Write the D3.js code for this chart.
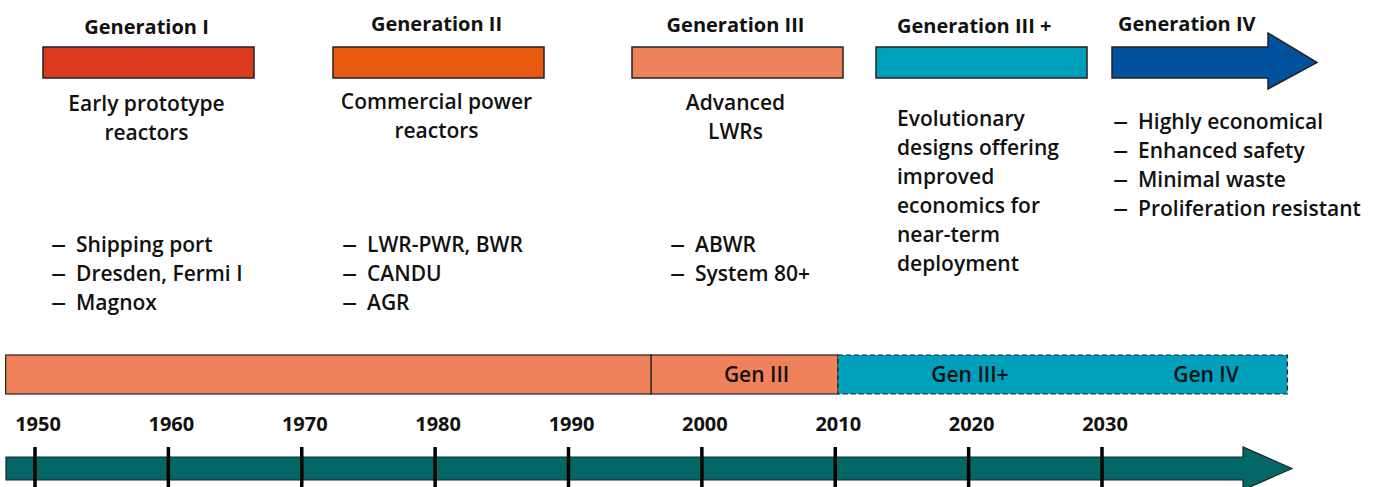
<!DOCTYPE html>
<html lang="en">
<head>
    <meta charset="utf-8">
    <title>Reactor generations timeline</title>
    <script src="https://d3js.org/d3.v7.min.js"></script>
    <style>
        body { margin: 0; background: #fff; }
        text { font-family: "Open Sans", "Noto Sans", sans-serif; fill: #111; }
    </style>
</head>
<body>
<script>
    // Chart data
    var genNames = ["Generation I", "Generation II", "Generation III", "Generation III +", "Generation IV"];
    var genColors = ["#dc391e", "#e9590f", "#f0825b", "#009fbb", "#00529f"];
    var genDescriptions = [
        ["Early prototype", "reactors"],
        ["Commercial power", "reactors"],
        ["Advanced", "LWRs"],
        ["Evolutionary", "designs offering", "improved", "economics for", "near-term", "deployment"],
        []
    ];
    var genBullets = [
        ["Shipping port", "Dresden, Fermi I", "Magnox"],
        ["LWR-PWR, BWR", "CANDU", "AGR"],
        ["ABWR", "System 80+"],
        [],
        ["Highly economical", "Enhanced safety", "Minimal waste", "Proliferation resistant"]
    ];
    var yearTicks = [1950, 1960, 1970, 1980, 1990, 2000, 2010, 2020, 2030];
    var segStart = [1947.8, 1996.2, 2010.2];
    var segEnd = [1996.2, 2010.2, 2043.9];
    var segColors = ["#f0825b", "#f0825b", "#009fbb"];
    var segDashed = [false, false, true];
    var segLabels = ["Gen III", "Gen III+", "Gen IV"];
    var segLabelYears = [2004.1, 2020.1, 2037.8];

    var width = 1373, height = 487;

    var svg = d3.select("body").append("svg")
        .attr("width", width)
        .attr("height", height);

    // Year scale for the lower timeline
    var x = d3.scaleLinear().domain([1950, 2030]).range([35, 1102]);

    // Column layout for the generation blocks
    var colX = [43, 333, 632, 876, 1112];
    var barW = 211;
    var titleY = [34, 31, 32, 33, 31];
    var descY = [111, 109, 110, 126, 0];
    var bulletX = [8, 9, 38, 0, 1];
    var bulletY = [252, 252, 252, 0, 129];

    var cols = svg.selectAll("g.gen")
        .data(genNames)
        .enter().append("g")
        .attr("class", "gen")
        .attr("transform", function(d, i) { return "translate(" + colX[i] + ",0)"; });

    cols.append("text")
        .attr("x", function(d, i) { return i == 3 ? 21 : (i == 4 ? 6 : barW / 2 - 2); })
        .attr("y", function(d, i) { return titleY[i]; })
        .attr("text-anchor", function(d, i) { return i >= 3 ? "start" : "middle"; })
        .style("font-weight", "bold")
        .style("font-size", "20px")
        .text(function(d) { return d; });

    // Bars (last one is an arrow)
    cols.append("path")
        .attr("fill", function(d, i) { return genColors[i]; })
        .attr("stroke", "#222")
        .attr("stroke-width", 1.5)
        .attr("d", function(d, i) {
            if (i < 4) return "M0,47H" + barW + "V78H0Z";
            return "M0,47H156V33L205,62.5L156,89V78H0Z";
        });

    // Descriptions and bullet lists
    cols.each(function(d, i) {
        var g = d3.select(this);
        g.selectAll("text.desc")
            .data(genDescriptions[i])
            .enter().append("text")
            .attr("class", "desc")
            .attr("x", i == 3 ? 21 : barW / 2 - 2)
            .attr("y", function(l, j) { return descY[i] + j * 29; })
            .attr("text-anchor", i == 3 ? "start" : "middle")
            .style("font-size", "21px")
            .style("font-weight", "600")
            .text(function(l) { return l; });

        var b = g.selectAll("g.bullet")
            .data(genBullets[i])
            .enter().append("g")
            .attr("class", "bullet")
            .attr("transform", function(l, j) { return "translate(" + bulletX[i] + "," + (bulletY[i] + j * 29) + ")"; });
        b.append("text")
            .attr("transform", "scale(1.45,1)")
            .style("font-size", "21px")
            .style("font-weight", "600")
            .text("\u2013");
        b.append("text")
            .attr("x", 25)
            .style("font-size", "21px")
            .style("font-weight", "600")
            .text(function(l) { return l; });
    });

    // Upper timeline band
    var band = svg.append("g");
    band.selectAll("rect")
        .data(segStart)
        .enter().append("rect")
        .attr("x", function(d) { return x(d); })
        .attr("y", 355)
        .attr("width", function(d, i) { return x(segEnd[i]) - x(d); })
        .attr("height", 39)
        .attr("fill", function(d, i) { return segColors[i]; })
        .attr("stroke", "#222")
        .attr("stroke-width", 1.2)
        .attr("stroke-dasharray", function(d, i) { return segDashed[i] ? "5,3" : null; });

    band.selectAll("text")
        .data(segLabels)
        .enter().append("text")
        .attr("x", function(d, i) { return x(segLabelYears[i]); })
        .attr("y", 382)
        .attr("text-anchor", "middle")
        .style("font-size", "21px")
        .style("font-weight", "600")
        .text(function(d) { return d; });

    // Year labels
    svg.append("g").selectAll("text")
        .data(yearTicks)
        .enter().append("text")
        .attr("x", function(d) { return x(d) + 3; })
        .attr("y", 431)
        .attr("text-anchor", "middle")
        .style("font-size", "20px")
        .style("font-weight", "bold")
        .text(function(d) { return d; });

    // Bottom arrow
    svg.append("path")
        .attr("fill", "#036766")
        .attr("stroke", "#222")
        .attr("stroke-width", 1.2)
        .attr("d", "M6,457H1243V447L1292,468.5L1243,490V480H6Z");

    // Tick marks
    svg.append("g").selectAll("line")
        .data(yearTicks)
        .enter().append("line")
        .attr("x1", function(d) { return x(d); })
        .attr("x2", function(d) { return x(d); })
        .attr("y1", 447)
        .attr("y2", 490)
        .attr("stroke", "#000")
        .attr("stroke-width", 3.5);
</script>
</body>
</html>
